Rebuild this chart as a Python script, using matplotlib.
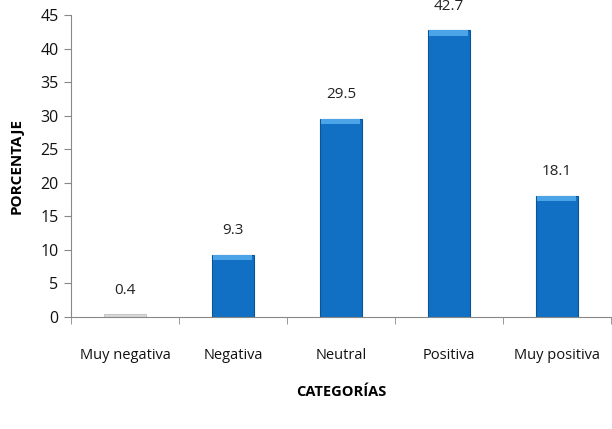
"bar chart: porcentaje por categoria"
import numpy as np
import matplotlib
matplotlib.use("Agg")
from matplotlib import pyplot as plt

categorias = ["Muy negativa", "Negativa", "Neutral", "Positiva", "Muy positiva"]
porcentaje = [0.4, 9.3, 29.5, 42.7, 18.1]

plt.rcParams['font.family'] = ['Open Sans', 'DejaVu Sans']

fig = plt.figure(figsize=(6.12, 4.29), dpi=100)
ax = fig.add_axes([0.116, 0.261, 0.882, 0.704])

x = np.arange(len(categorias))
top = np.array(porcentaje)
colores = ["#D8D8D8" if v < 1 else "#1170C4" for v in porcentaje]
bordes = ["#C8C8C8" if v < 1 else "#0B5597" for v in porcentaje]
ax.bar(x, porcentaje, width=0.39, color=colores, edgecolor=bordes, linewidth=0.8, zorder=2)
# bevel on top of the bars
bev = np.where(top < 1, 0, 0.8)
ax.bar(x, bev, bottom=top - bev, width=0.36,
       color="#4BA3E8", linewidth=0, zorder=3)

for xi, v in zip(x, porcentaje):
    ax.annotate(f"{v}", (xi, v), xytext=(0, 12), textcoords="offset points",
                ha="center", va="bottom", fontsize=11, color="#222222",
                annotation_clip=False)

ax.set_xlim(-0.5, len(categorias) - 0.5)
ax.set_ylim(0, 45)
ax.set_yticks(range(0, 46, 5))
ax.set_xticks(x)
ax.set_xticklabels(categorias)
ax.set_xticks(np.arange(-0.5, len(categorias), 1), minor=True)
ax.tick_params(axis="x", which="major", length=0, pad=22, labelsize=10.5, labelcolor="#111111")
ax.tick_params(axis="x", which="minor", length=5, color="#888888", direction="out")
ax.tick_params(axis="y", length=5, color="#888888", labelsize=11.5, pad=4, labelcolor="#111111")

for s in ["top", "right"]:
    ax.spines[s].set_visible(False)
ax.spines["left"].set_color("#888888")
ax.spines["bottom"].set_color("#888888")

ax.set_ylabel("PORCENTAJE", fontsize=11, fontweight="bold", labelpad=12)
ax.set_xlabel("CATEGORÍAS", fontsize=10.5, fontweight="bold", labelpad=16)

fig.savefig("out.png", dpi=100)
